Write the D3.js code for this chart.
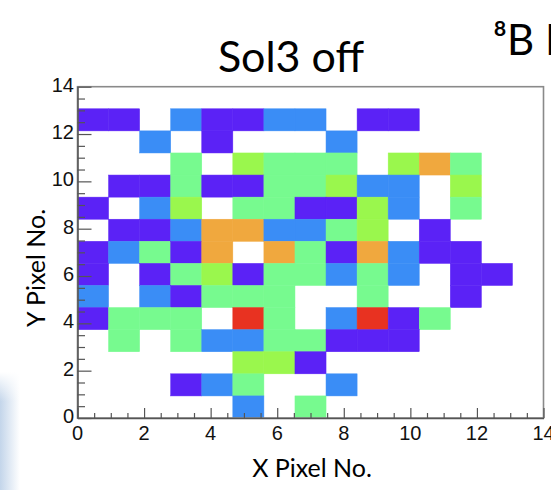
<!DOCTYPE html>
<html><head><meta charset="utf-8">
<script src="https://cdn.jsdelivr.net/npm/d3@7"></script>
<style>html,body{margin:0;padding:0;background:#fff;}svg{display:block;}</style>
</head><body>
<svg id="c" width="551" height="490"></svg>
<script>
// Bin contents (rows from top y-bin 14 down to y-bin 0), 15 x 15 bins over [0,14]
const rows = [
  [0,0,0,0,0,0,0,0,0,0,0,0,0,0,0],
  [1,1,0,2,1,1,2,2,0,1,1,0,0,0,0],
  [0,0,2,0,1,0,0,0,2,0,0,0,0,0,0],
  [0,0,0,3,0,4,3,3,3,0,4,5,3,0,0],
  [0,1,1,3,1,1,3,3,4,2,2,0,4,0,0],
  [1,0,2,4,0,3,3,1,1,4,2,0,3,0,0],
  [0,1,1,2,5,5,2,2,3,4,0,1,0,0,0],
  [1,2,3,1,5,0,5,3,1,5,2,1,1,0,0],
  [1,0,1,3,4,1,3,3,2,3,2,0,1,1,0],
  [2,0,2,1,3,3,3,0,0,3,0,0,1,0,0],
  [1,3,3,3,0,6,3,0,2,6,1,3,0,0,0],
  [0,3,0,3,2,2,3,3,1,1,1,0,0,0,0],
  [0,0,0,0,0,4,4,1,0,0,0,0,0,0,0],
  [0,0,0,1,2,3,0,0,2,0,0,0,0,0,0],
  [0,0,0,0,0,2,0,3,0,0,0,0,0,0,0]
];
const nBins = 15;
const axisMin = 0, axisMax = 14;
const xTickValues = [0,2,4,6,8,10,12,14];
const yTickValues = [0,2,4,6,8,10,12,14];
const levels = [1,2,3,4,5,6];
const palette = ["#5b22f6","#3a8df6","#77fa8f","#9af74d","#f0a83e","#e83221"];
const title = "Sol3 off";
const sideText = "\u2078B I";
const xTitle = "X Pixel No.";
const yTitle = "Y Pixel No.";

const svg = d3.select("#c");
const L = 77.5, R = 543.5, T = 86.7, B = 418;
const x = d3.scaleLinear().domain([axisMin, axisMax]).range([L, R]);
const y = d3.scaleLinear().domain([axisMin, axisMax]).range([B, T]);
const color = d3.scaleOrdinal().domain(levels).range(palette);
const bw = (axisMax - axisMin) / nBins;

// left background strip
const defs = svg.append("defs");
const g = defs.append("linearGradient").attr("id","strip").attr("x1",0).attr("x2",1).attr("y1",0).attr("y2",0);
g.append("stop").attr("offset","0%").attr("stop-color","#c3d5ea");
g.append("stop").attr("offset","100%").attr("stop-color","#ffffff");
const g2 = defs.append("linearGradient").attr("id","stripv").attr("x1",0).attr("x2",0).attr("y1",0).attr("y2",1);
g2.append("stop").attr("offset","0%").attr("stop-color","#fff").attr("stop-opacity",1);
g2.append("stop").attr("offset","25%").attr("stop-color","#fff").attr("stop-opacity",0);
svg.append("rect").attr("x",0).attr("y",372).attr("width",20).attr("height",118).attr("fill","url(#strip)");
svg.append("rect").attr("x",0).attr("y",372).attr("width",20).attr("height",118).attr("fill","url(#stripv)");

// cells
const cells = [];
rows.forEach((row, r) => {
  const yi = nBins - 1 - r;
  row.forEach((v, xi) => { if (v > 0) cells.push({xi, yi, v}); });
});
svg.append("g").selectAll("rect").data(cells).join("rect")
  .attr("x", d => x(d.xi * bw))
  .attr("y", d => y((d.yi + 1) * bw))
  .attr("width", d => x((d.xi + 1) * bw) - x(d.xi * bw))
  .attr("height", d => y(d.yi * bw) - y((d.yi + 1) * bw))
  .attr("fill", d => color(d.v))
  .attr("stroke", d => color(d.v)).attr("stroke-width", 0.5);

// frame
svg.append("rect").attr("x", L).attr("y", T).attr("width", R - L).attr("height", B - T)
  .attr("fill","none").attr("stroke","#8a8a8a").attr("stroke-width",1.6);

const tickColor = "#555";
// x axis
const minorX = d3.range(0, 14.01, 0.5);
const xAxis = d3.axisTop(x).tickValues(minorX).tickSize(0).tickFormat("");
const xg = svg.append("g").attr("transform", `translate(0,${B})`).call(xAxis);
xg.select(".domain").attr("stroke", "#555").attr("stroke-width", 1.5);
xg.selectAll(".tick line").attr("y2", d => (d % 2 === 0 ? -10 : -5)).attr("stroke", tickColor).attr("stroke-width", 1.2);
svg.append("g").selectAll("text").data(xTickValues).join("text")
  .attr("x", d => x(d)).attr("y", 440).attr("text-anchor","middle")
  .attr("font-family","Liberation Sans, Arial, sans-serif").attr("font-size",20).attr("fill","#111")
  .text(d => d);

// y axis
const minorY = d3.range(0, 14.01, 0.5);
const yAxis = d3.axisRight(y).tickValues(minorY).tickSize(0).tickFormat("");
const yg = svg.append("g").attr("transform", `translate(${L},0)`).call(yAxis);
yg.select(".domain").attr("stroke", "#555").attr("stroke-width", 1.5);
yg.selectAll(".tick line").attr("x2", d => (d % 2 === 0 ? 14 : 7.5)).attr("stroke", tickColor).attr("stroke-width", 1.2);
svg.append("g").selectAll("text").data(yTickValues).join("text")
  .attr("x", 74).attr("y", d => y(d) + 5).attr("text-anchor","end")
  .attr("font-family","Liberation Sans, Arial, sans-serif").attr("font-size",20).attr("fill","#111")
  .text(d => d);

// titles
svg.append("text").attr("x", 291).attr("y", 72).attr("text-anchor","middle")
  .attr("font-family","Lato, sans-serif").attr("font-size",43).attr("fill","#000").text(title);
svg.append("text").attr("x", 493).attr("y", 55)
  .attr("font-family","Lato, sans-serif").attr("font-size",42).attr("fill","#000").text(sideText);
svg.append("text").attr("x", 312).attr("y", 477).attr("text-anchor","middle")
  .attr("font-family","Lato, sans-serif").attr("font-size",25).attr("fill","#000").text(xTitle);
svg.append("text").attr("transform","translate(45,268) rotate(-90)").attr("text-anchor","middle")
  .attr("font-family","Lato, sans-serif").attr("font-size",25).attr("fill","#000").text(yTitle);
</script>
</body></html>
